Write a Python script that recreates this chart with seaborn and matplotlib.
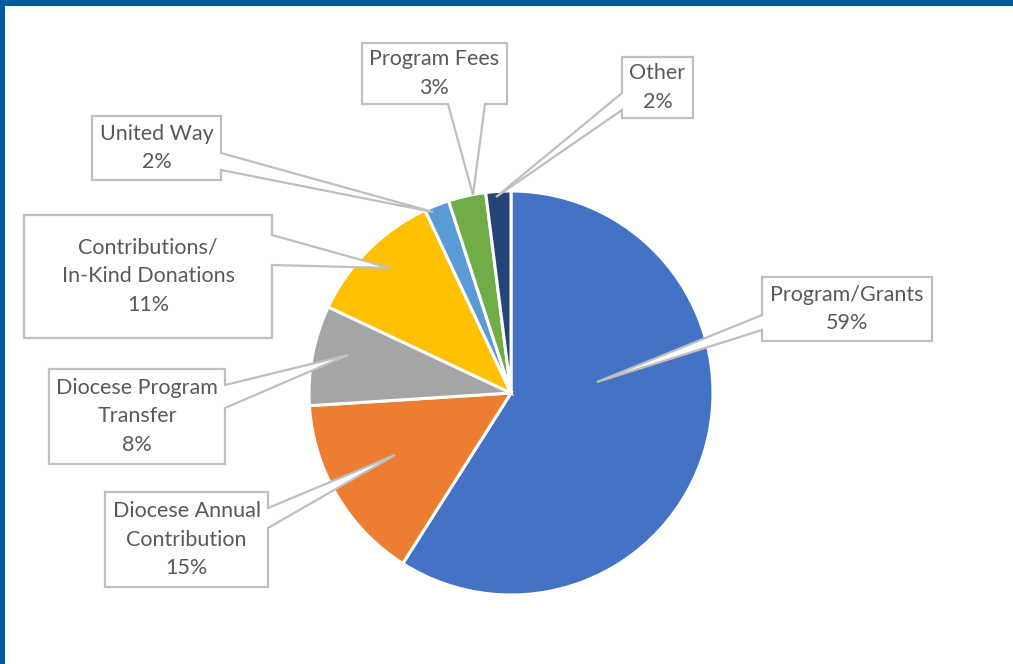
import matplotlib.pyplot as plt
import seaborn as sns
from matplotlib.patches import Polygon, Rectangle

# 데이터
categories = ['Program/Grants', 'Diocese Annual Contribution', 'Diocese Program Transfer',
              'Contributions/In-Kind Donations', 'United Way', 'Program Fees', 'Other']
shares = [59, 15, 8, 11, 2, 3, 2]
label_texts = ['Program/Grants', 'Diocese Annual\nContribution', 'Diocese Program\nTransfer',
               'Contributions/\nIn-Kind Donations', 'United Way', 'Program Fees', 'Other']
colors = ['#4472C4', '#ED7D31', '#A5A5A5', '#FFC000', '#5B9BD5', '#70AD47', '#264478']

# 콜아웃 배치 (픽셀 좌표, 위에서 아래로): box x0, x1, y0, y1 / 꼬리 변, 꼬리 시작, 끝 / 꼬리 끝점
callouts = [
    ((762, 932, 277, 341), 'left', (315, 330), (597, 382)),
    ((105, 268, 492, 587), 'right', (508, 528), (395, 455)),
    ((49, 225, 369, 464), 'right', (385, 408), (348, 355)),
    ((24, 272, 215, 338), 'right', (235, 265), (390, 268)),
    ((92, 221, 116, 180), 'right', (153, 170), (433, 212)),
    ((362, 507, 43, 104), 'bottom', (448, 485), (473, 195)),
    ((622, 693, 57, 118), 'left', (93, 110), (496, 197)),
]

W, H = 1013, 664

sns.set_theme(style='white')
plt.rcParams['font.family'] = ['Lato', 'DejaVu Sans']

fig = plt.figure(figsize=(W / 100, H / 100), dpi=100)
ax = fig.add_axes([0, 0, 1, 1])
ax.set_xlim(0, W)
ax.set_ylim(0, H)
ax.set_aspect('equal')
ax.axis('off')

# 파이 차트
ax.pie(shares, colors=colors, startangle=90, counterclock=False,
       center=(511, H - 393), radius=202,
       wedgeprops=dict(edgecolor='white', linewidth=2.2))
ax.set_xlim(0, W)
ax.set_ylim(0, H)


def callout_shape(box, side, base, tip):
    x0, x1, y0, y1 = box
    a, b = base
    if side == 'right':
        pts = [(x0, y0), (x1, y0), (x1, a), tip, (x1, b), (x1, y1), (x0, y1)]
    elif side == 'left':
        pts = [(x0, y0), (x1, y0), (x1, y1), (x0, y1), (x0, b), tip, (x0, a)]
    else:
        pts = [(x0, y0), (x1, y0), (x1, y1), (b, y1), tip, (a, y1), (x0, y1)]
    return [(px, H - py) for px, py in pts]


for text, share, (box, side, base, tip) in zip(label_texts, shares, callouts):
    ax.add_patch(Polygon(callout_shape(box, side, base, tip), closed=True,
                         facecolor='white', edgecolor='#BFBFBF', linewidth=1.6, zorder=5))
    cx = (box[0] + box[1]) / 2
    cy = H - (box[2] + box[3]) / 2
    ax.text(cx, cy, f'{text}\n{share}%', ha='center', va='center', fontsize=15.5,
            color='#595959', linespacing=1.55, zorder=6)

# 테두리
fig.patches.append(Rectangle((0, 1 - 6 / H), 1, 6 / H, transform=fig.transFigure,
                             facecolor='#005A9E', edgecolor='none'))
fig.patches.append(Rectangle((0, 0), 5 / W, 1, transform=fig.transFigure,
                             facecolor='#005A9E', edgecolor='none'))

plt.savefig('out.png', dpi=100)
